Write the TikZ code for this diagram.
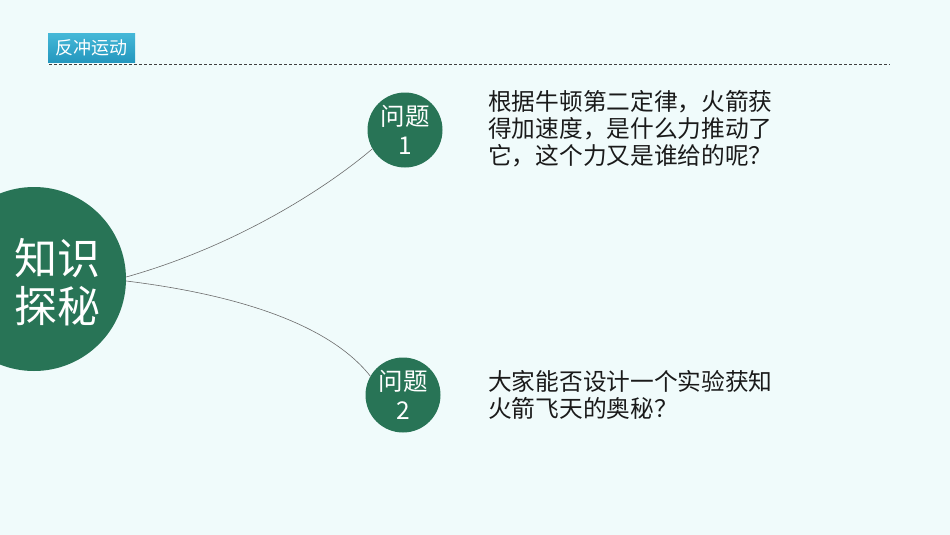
\documentclass[tikz,border=0pt]{standalone}
\usepackage{fontspec}
\newfontfamily\cjk{Noto Sans CJK SC}
\definecolor{bgc}{HTML}{F0FBFB}
\definecolor{deepgreen}{HTML}{287456}
\definecolor{tabtop}{HTML}{45B8D8}
\definecolor{tabbot}{HTML}{2497BE}
\definecolor{txt}{HTML}{1A1A1A}
\begin{document}
\begin{tikzpicture}[x=1pt,y=-1pt,
  bigcirc/.style={circle,fill=deepgreen,inner sep=0pt,minimum size=184pt},
  bigtext/.style={text=white,align=center,inner sep=0pt,font=\cjk\fontsize{43}{48}\selectfont},
  qcirc/.style={circle,fill=deepgreen,text=white,align=center,inner sep=0pt,minimum size=75pt,font=\cjk\fontsize{24.5}{29}\selectfont},
  qtext/.style={anchor=north west,align=left,text=txt,inner sep=0pt,font=\cjk\fontsize{23.7}{27}\selectfont},
  link/.style={draw=gray!85!black,line width=0.6pt}]
\fill[bgc] (0,0) rectangle (950,535);
\useasboundingbox (0,0) rectangle (950,535);
% title tab
\draw[black!75,line width=0.8pt,dash pattern=on 3pt off 2pt] (49,64) coordinate (dl) -- (890,64) coordinate (dr);
\node[anchor=north west,minimum width=87pt,minimum height=29pt,inner sep=0pt,
  top color=tabtop,bottom color=tabbot,text=white,font=\cjk\fontsize{18}{20}\selectfont] (tab) at (48,33) {反冲运动};
% circles
\node[bigcirc] (main) at (34,279) {};
\node[bigtext] (mainlbl) at (57,282) {知识\\探秘};
\node[qcirc] (q1) at (405,130) {问题\\1};
\node[qcirc] (q2) at (403,395) {问题\\2};
% connectors
\draw[link] (main.east) ++(0,-2) .. controls (240,245) and (330,185) .. (q1.210);
\draw[link] (main.east) ++(0,2) .. controls (240,295) and (330,325) .. (q2.150);
% texts
\node[qtext] (t1) at (488,90) {根据牛顿第二定律，火箭获\\得加速度，是什么力推动了\\它，这个力又是谁给的呢？};
\node[qtext] (t2) at (488,370) {大家能否设计一个实验获知\\火箭飞天的奥秘？};
\end{tikzpicture}
\end{document}
